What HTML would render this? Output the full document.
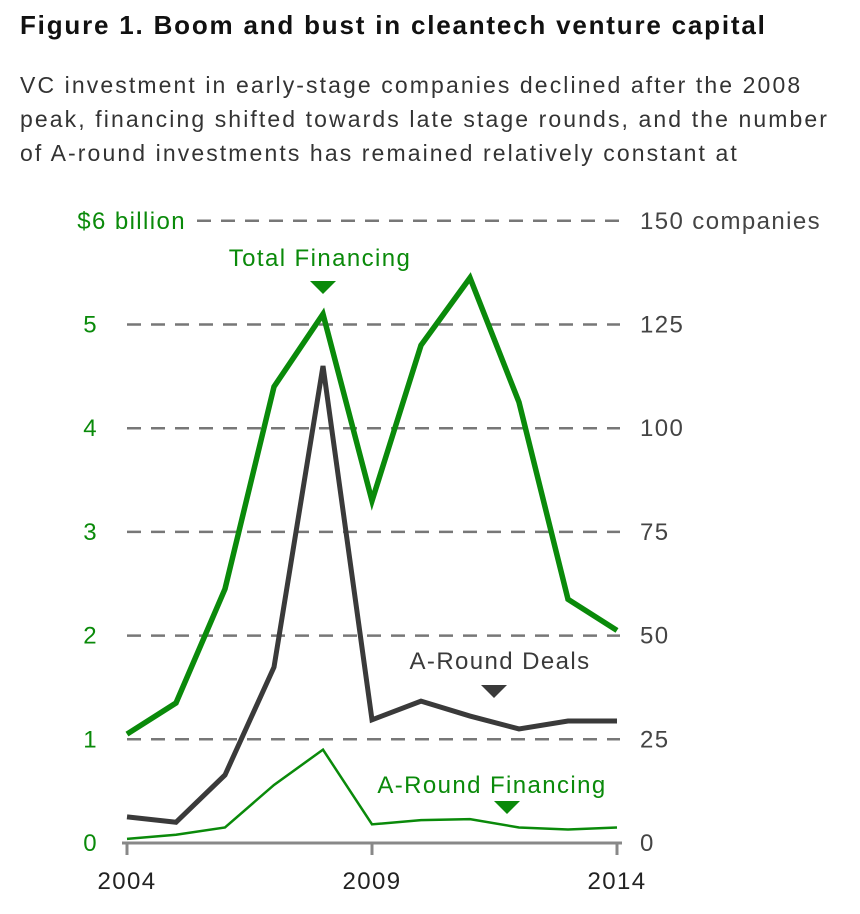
<!DOCTYPE html>
<html><head><meta charset="utf-8"><style>
body{margin:0;background:#fff;width:860px;height:914px;overflow:hidden;font-family:"Liberation Sans",sans-serif;}
#title{position:absolute;left:20px;top:10px;font-size:26px;font-weight:bold;color:#111;letter-spacing:1.8px;white-space:nowrap}
#sub{position:absolute;left:20px;top:68px;width:840px;font-size:23px;line-height:34px;color:#333;letter-spacing:2.1px;white-space:nowrap}
svg{position:absolute;left:0;top:0}
svg text{letter-spacing:1.4px}
</style></head><body>
<div id="title">Figure 1. Boom and bust in cleantech venture capital</div>
<div id="sub">VC investment in early-stage companies declined after the 2008<br>peak, financing shifted towards late stage rounds, and the number<br>of A-round investments has remained relatively constant at</div>
<svg id="chart" width="860" height="914"></svg>
<script>
const years=[2004,2005,2006,2007,2008,2009,2010,2011,2012,2013,2014];
const totalFinancing=[1.05,1.35,2.45,4.4,5.1,3.3,4.8,5.45,4.25,2.35,2.05];
const aRoundDeals=[6.3,5,16.4,42.4,115,29.7,34.2,30.6,27.5,29.4,29.4];
const aRoundFinancing=[0.04,0.08,0.15,0.56,0.9,0.18,0.22,0.23,0.15,0.13,0.15];
const leftTicks=[0,1,2,3,4,5];
const rightTicks=[0,25,50,75,100,125];
const xTicks=[2004,2009,2014];
const G="#0a8a0a",D="#3a3a3a";
const svg=document.getElementById('chart');
const x=v=>127+(v-2004)*49;
const yL=v=>843-v*103.7;
const yR=v=>843-v*103.7/25;
const FS=24;
function el(t,a,txt){const e=document.createElementNS('http://www.w3.org/2000/svg',t);for(const k in a)e.setAttribute(k,a[k]);if(txt!==undefined)e.textContent=txt;svg.appendChild(e);return e;}
leftTicks.forEach((t,i)=>{if(t===0)return;
 const g=el('line',{x1:127,x2:620,y1:yL(t),y2:yL(t),stroke:'#777','stroke-width':2.5,'stroke-dasharray':'14 10'});
 
 
 const l=el('text',{x:98,y:yL(t)+8,fill:G,'font-size':FS,'text-anchor':'end'},t);
 
 
 const r=el('text',{x:640,y:yR(rightTicks[i])+8,fill:'#444','font-size':FS},rightTicks[i]);
 
 
});
const g6=el('line',{x1:197,x2:620,y1:yL(6),y2:yL(6),stroke:'#777','stroke-width':2.5,'stroke-dasharray':'14 10'});


const l6=el('text',{x:186,y:yL(6)+8,fill:G,'font-size':FS,'text-anchor':'end'},'$6 billion');


const r6=el('text',{x:640,y:yL(6)+8,fill:'#444','font-size':FS},'150 companies');


const z0=el('text',{x:98,y:851,fill:G,'font-size':FS,'text-anchor':'end'},'0');


const z1=el('text',{x:640,y:851,fill:'#444','font-size':FS},'0');


const ax=el('line',{x1:122,x2:622,y1:843,y2:843,stroke:'#888','stroke-width':3});


xTicks.forEach(t=>{
 const tk=el('line',{x1:x(t),x2:x(t),y1:843,y2:855,stroke:'#888','stroke-width':3});
 
 
 const tl=el('text',{x:x(t),y:889,fill:'#222','font-size':FS,'text-anchor':'middle'},t);
 
 
});
function line(data,yf,col,w,name){
 const p=el('polyline',{points:data.map((v,i)=>x(years[i])+','+yf(v)).join(' '),fill:'none',stroke:col,'stroke-width':w,'stroke-linejoin':'miter'});
 
 
}
line(aRoundFinancing,yL,G,2.5,'a-round-financing-line');
line(aRoundDeals,yR,D,5,'a-round-deals-line');
line(totalFinancing,yL,G,5.5,'total-financing-line');
function lab(tx,ty,txt,col,tri,name){
 const t=el('text',{x:tx,y:ty,fill:col,'font-size':FS,'text-anchor':'middle'},txt);
 
 
 const p=el('polygon',{points:`${tri[0]-13},${tri[1]} ${tri[0]+13},${tri[1]} ${tri[0]},${tri[1]+13}`,fill:col});
 
 
}
lab(320,266,'Total Financing',G,[323,281],'total-financing-label');
lab(500,669,'A-Round Deals',D,[494,685],'a-round-deals-label');
lab(492,793,'A-Round Financing',G,[507,801],'a-round-financing-label');
</script>
</body></html>
